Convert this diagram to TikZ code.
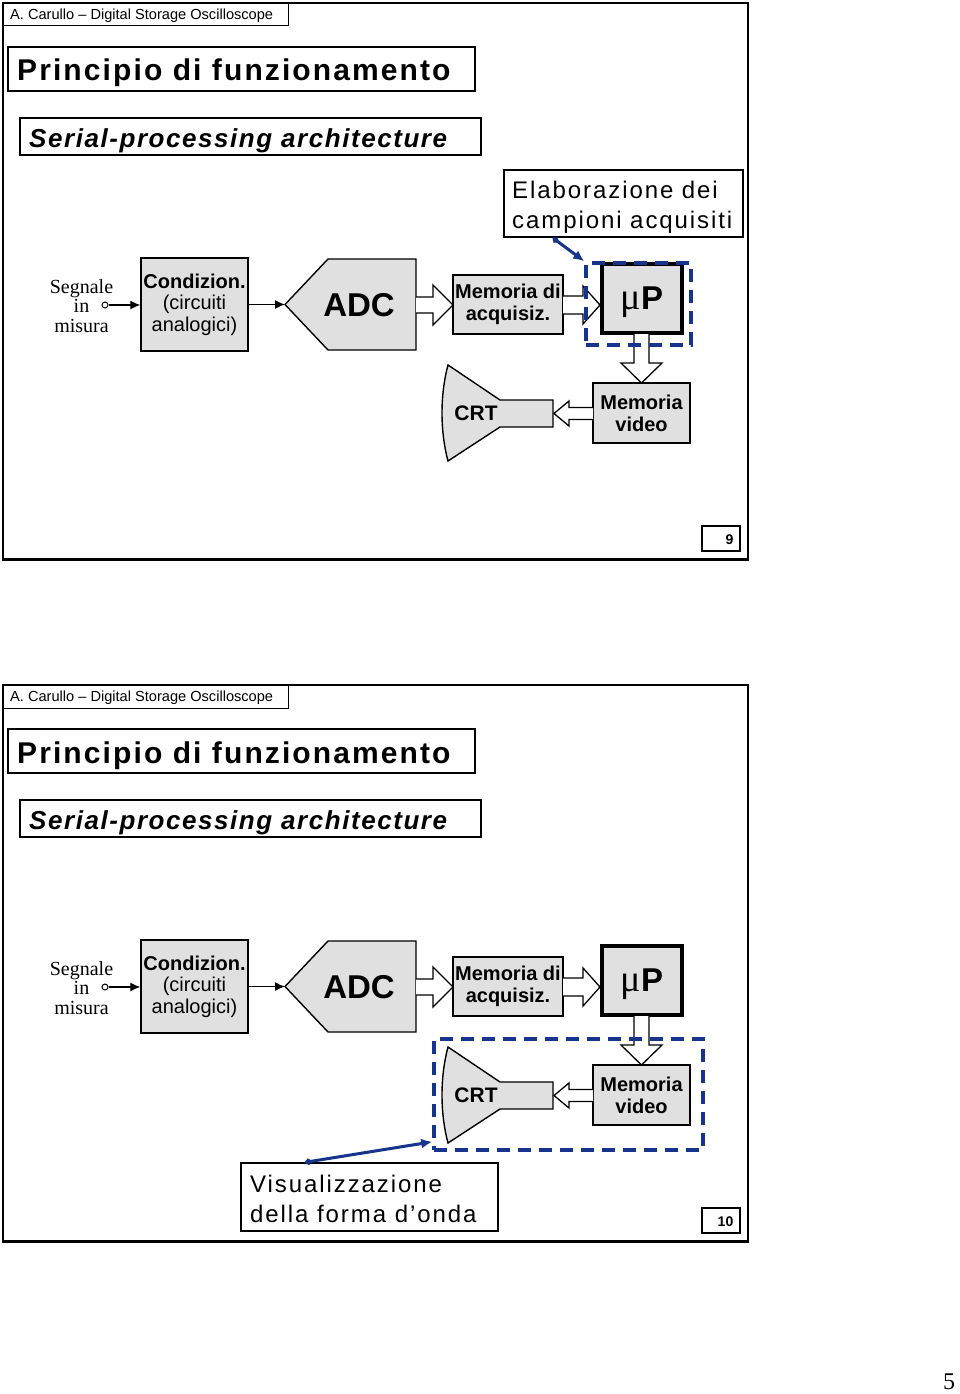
\documentclass[tikz,border=0pt]{standalone}
\usepackage{fontspec}
\setmainfont{Liberation Sans}
\newfontfamily\serifrm{Liberation Serif}
\newfontfamily\titlefont[LetterSpace=7]{Liberation Sans}
\newfontfamily\subfont[LetterSpace=6]{Liberation Sans}
\newfontfamily\notefont[LetterSpace=8]{Liberation Sans}
\usetikzlibrary{arrows.meta,calc}
\definecolor{boxgray}{RGB}{224,224,224}
\definecolor{dblue}{RGB}{22,52,140}
\tikzset{
  frame/.style={draw, line width=2.4pt},
  tabbox/.style={draw, line width=1pt},
  hdrtext/.style={anchor=base west, inner sep=0pt, font=\fontsize{14.6}{16}\selectfont},
  titlebox/.style={draw, line width=1.2pt, inner sep=0pt},
  gbox/.style={draw, fill=boxgray, line width=1.4pt, inner sep=0pt, align=center},
  gtext/.style={font=\bfseries\fontsize{20}{22}\selectfont},
  hol/.style={draw, fill=white, line width=1.3pt, line join=miter},
  gshape/.style={draw, fill=boxgray, line width=1.4pt, line join=miter},
  dbox/.style={draw=dblue, line width=3.6pt, dash pattern=on 13pt off 8pt, inner sep=0pt},
  bluearrow/.style={draw=dblue, line width=3pt, {Diamond[length=8pt,width=7pt]}-{Latex[length=11pt,width=10pt]}},
  sig/.style={line width=1.3pt, -{Latex[length=10pt,width=9pt]}},
  notebox/.style={draw, line width=1.2pt, inner sep=0pt},
  notetext/.style={anchor=west, inner sep=0pt, align=left, font=\notefont\fontsize{24}{30}\selectfont},
  pagebox/.style={draw, line width=1.2pt, inner sep=0pt},
}
% common slide content; #1 = name suffix, #2 = page number
\newcommand\drawslide[2]{%
  \draw[frame] (3,3) rectangle (748,559.5);
  \draw[tabbox] (3,3) rectangle (288,26);
  \node[hdrtext] (hdr#1) at (10,19.5) {A. Carullo – Digital Storage Oscilloscope};
  \node[titlebox, minimum width=467pt, minimum height=44pt] (tbox#1) at (241.5,69) {};
  \node[anchor=base west, inner sep=0pt, font={\titlefont\bfseries\fontsize{30}{36}\selectfont}] (title#1) at (17,81) {Principio di funzionamento};
  \node[titlebox, minimum width=461pt, minimum height=37pt] (sbox#1) at (250.5,136.5) {};
  \node[anchor=base west, inner sep=0pt, font={\subfont\bfseries\itshape\fontsize{26}{30}\selectfont}] (sub#1) at (29,147) {Serial-processing architecture};
  % input
  \node[align=center, inner sep=0pt, font=\serifrm\fontsize{20}{19.5}\selectfont] (seg#1) at (81.5,306) {Segnale\\in\\misura};
  \node[circle, draw, fill=white, inner sep=0pt, minimum size=6pt, line width=1pt] (inp#1) at (105,305) {};
  \node[gbox, minimum width=107pt, minimum height=93pt, font=\fontsize{20}{21.5}\selectfont] (cond#1) at (194.5,304.5) {\textbf{Condizion.}\\(circuiti\\analogici)};
  \draw[sig] (inp#1.east) -- (cond#1.west |- inp#1.east);
  % ADC
  \draw[gshape] (285,304.5) -- (328,259) -- (416,259) -- (416,350) -- (328,350) -- cycle;
  \coordinate (adcin#1) at (285,304.5);
  \node[font=\bfseries\fontsize{33}{33}\selectfont, inner sep=0pt] (adc#1) at (359,305) {ADC};
  \draw[sig] (cond#1.east) -- (adcin#1);
  % ADC -> memoria di acquisizione
  \node[gbox, gtext, minimum width=110pt, minimum height=59pt] (macq#1) at (508,304.5) {Memoria di\\acquisiz.};
  \draw[hol] (416,297) -- (433,297) -- (433,285) -- (453,305) -- (433,325) -- (433,313) -- (416,313);
  % muP
  \node[draw, fill=boxgray, line width=4pt, inner sep=0pt, minimum width=80pt, minimum height=69pt] (up#1) at (642,298.5) {};
  \node[inner sep=0pt] (uptext#1) at (642,302) {{\serifrm\fontsize{38}{38}\selectfont μ}{\bfseries\fontsize{33}{33}\selectfont P}};
  \draw[hol] (563,296) -- (583,296) -- (583,286) -- (600,305) -- (583,324) -- (583,314) -- (563,314);
  % memoria video
  \node[gbox, gtext, minimum width=97pt, minimum height=60pt] (mvid#1) at (641.5,413) {Memoria\\video};
  \draw[hol] (634,334) -- (634,363) -- (621,363) -- (641.5,383) -- (662,363) -- (649,363) -- (649,334);
  % CRT
  \draw[gshape] (553,400) -- (500,400) -- (448,365) .. controls (440,395) and (440,431) .. (448,461) -- (500,427) -- (553,427) -- cycle;
  \node[font=\bfseries\fontsize{21}{21}\selectfont, inner sep=0pt] (crt#1) at (476,413) {CRT};
  \draw[hol] (593,407.5) -- (569,407.5) -- (569,401) -- (554,413.5) -- (569,426) -- (569,419.5) -- (593,419.5);
  % page number
  \node[pagebox, minimum width=38pt, minimum height=25pt] (pbox#1) at (721,538.5) {};
  \node[anchor=base east, inner sep=0pt, font=\bfseries\fontsize{14}{16}\selectfont] (pnum#1) at (733.5,544) {#2};
}
\begin{document}
\begin{tikzpicture}[x=1pt,y=-1pt]
  \fill[white] (0,0) rectangle (960,1394);
  \useasboundingbox (0,0) rectangle (960,1394);
  % slide 9
  \begin{scope}
    \drawslide{a}{9}
    \node[notebox, minimum width=239pt, minimum height=67pt] (elab) at (623.5,203.5) {};
    \node[notetext] (elabtext) at (512,207) {Elaborazione dei\\campioni acquisiti};
    \node[dbox, minimum width=105pt, minimum height=82pt] (dashup) at (638.5,304) {};
    \draw[bluearrow] ($(elab.south west)+(49,0)$) -- (dashup.north west);
  \end{scope}
  % slide 10
  \begin{scope}[yshift=-682pt]
    \drawslide{b}{10}
    \node[dbox, minimum width=269pt, minimum height=111pt] (dashdn) at (568.5,412.5) {};
    \node[notebox, minimum width=257pt, minimum height=68pt] (vis) at (369.5,515) {};
    \node[notetext] (vistext) at (250,517) {Visualizzazione\\della forma d’onda};
    \draw[bluearrow] ($(vis.north west)+(64,0)$) -- ($(dashdn.south west)+(0,-10)$);
  \end{scope}
  \node[anchor=base, inner sep=0pt, font=\serifrm\fontsize{24}{24}\selectfont] (pg) at (949,1389) {5};
\end{tikzpicture}
\end{document}
